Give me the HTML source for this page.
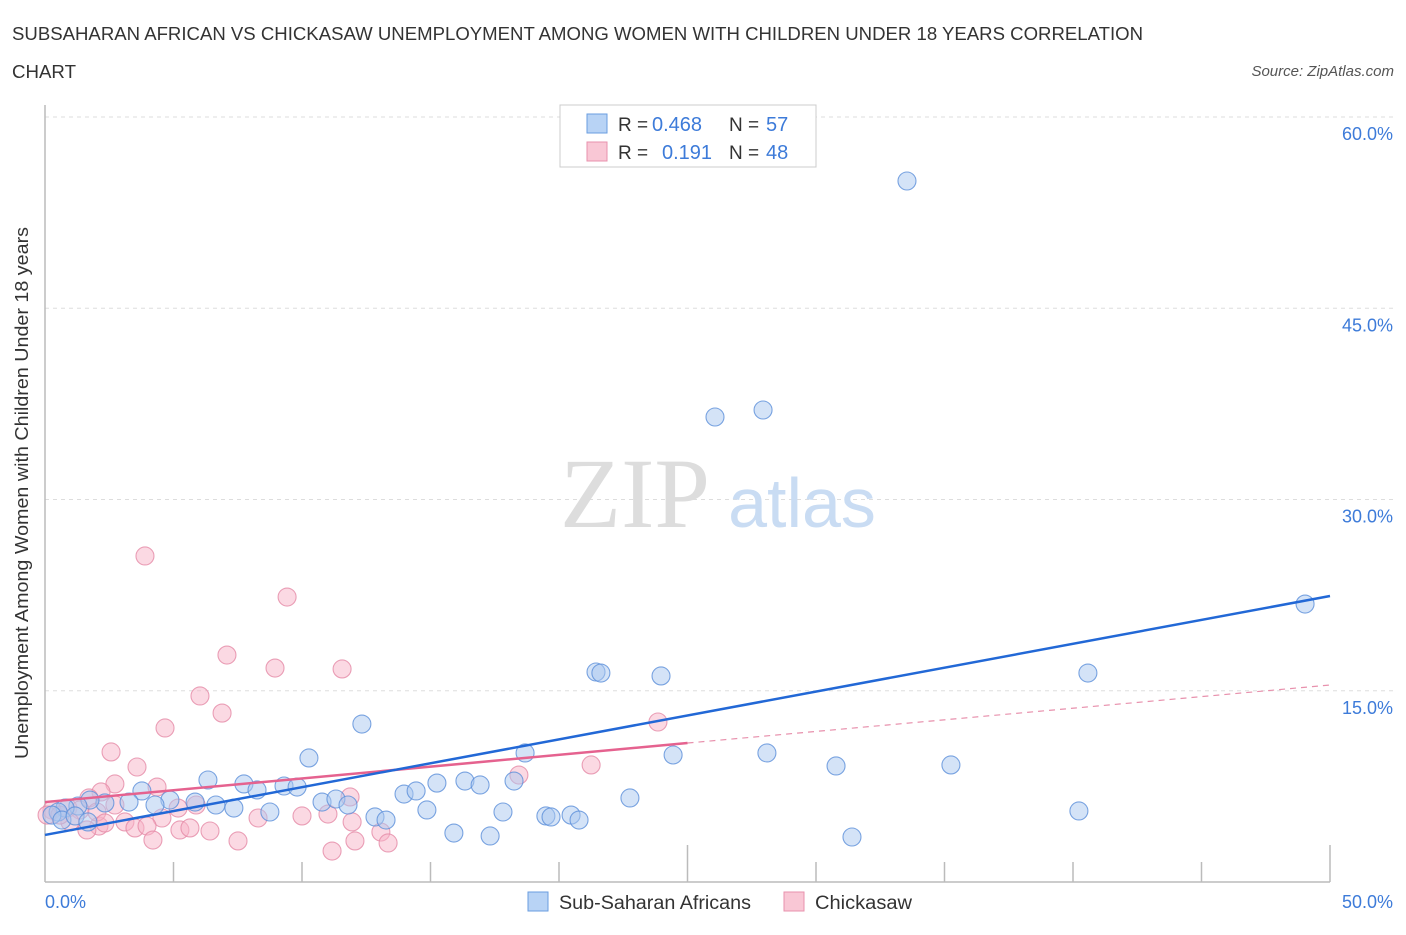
<!DOCTYPE html>
<html><head><meta charset="utf-8"><style>
body{margin:0;background:#fff;font-family:"Liberation Sans",sans-serif;}
</style></head><body>
<svg id="c" width="1406" height="930" xmlns="http://www.w3.org/2000/svg" font-family="Liberation Sans, sans-serif">
<text x="12" y="40" font-size="18" fill="#333" textLength="1131" lengthAdjust="spacingAndGlyphs">SUBSAHARAN AFRICAN VS CHICKASAW UNEMPLOYMENT AMONG WOMEN WITH CHILDREN UNDER 18 YEARS CORRELATION</text>
<text x="12" y="78" font-size="18" fill="#333" textLength="64" lengthAdjust="spacingAndGlyphs">CHART</text>
<text x="1394" y="76" font-size="15" fill="#555" font-style="italic" text-anchor="end">Source: ZipAtlas.com</text>
<text x="28" y="493" font-size="18" fill="#333" text-anchor="middle" textLength="532" lengthAdjust="spacingAndGlyphs" transform="rotate(-90 28 493)">Unemployment Among Women with Children Under 18 years</text>
<g id="grid"></g>
<text x="635" y="527" font-size="100" fill="#ddd" style="font-family:'Liberation Serif',serif" text-anchor="middle">ZIP</text>
<text x="802" y="527" font-size="70" fill="#c9dcf3" text-anchor="middle">atlas</text>
<g id="marks"></g>
<g>
<rect x="560" y="105" width="256" height="62" fill="#fff" stroke="#ccc"/>
<rect x="587" y="114" width="20" height="19" fill="#b8d3f5" stroke="#6a9ee0"/>
<text x="618" y="131" font-size="19" fill="#333">R =</text>
<text x="652" y="131" font-size="20" fill="#3d7bd9">0.468</text>
<text x="729" y="131" font-size="19" fill="#333">N =</text>
<text x="766" y="131" font-size="20" fill="#3d7bd9">57</text>
<rect x="587" y="142" width="20" height="19" fill="#f9c7d5" stroke="#e892ad"/>
<text x="618" y="159" font-size="19" fill="#333">R =</text>
<text x="662" y="159" font-size="20" fill="#3d7bd9">0.191</text>
<text x="729" y="159" font-size="19" fill="#333">N =</text>
<text x="766" y="159" font-size="20" fill="#3d7bd9">48</text>
</g>
<g>
<rect x="528" y="892" width="20" height="19" fill="#b8d3f5" stroke="#6a9ee0"/>
<text x="559" y="909" font-size="19" fill="#333" textLength="192" lengthAdjust="spacingAndGlyphs">Sub-Saharan Africans</text>
<rect x="784" y="892" width="20" height="19" fill="#f9c7d5" stroke="#e892ad"/>
<text x="815" y="909" font-size="19" fill="#333" textLength="97" lengthAdjust="spacingAndGlyphs">Chickasaw</text>
</g>
</svg>
<script>
const blueX=[33.54,26.07,27.94,49.03,40.58,21.44,21.63,23.97,12.33,10.27,18.68,24.44,28.09,30.78,35.25,40.23,31.40,22.76,6.34,7.74,8.25,9.30,9.81,3.77,4.86,5.84,6.65,4.28,3.27,2.33,1.75,1.28,0.78,0.51,0.27,7.35,8.75,10.78,11.32,11.79,12.84,13.27,13.97,14.44,15.25,16.34,16.93,14.86,15.91,17.32,17.82,18.25,19.49,19.69,20.47,20.78,0.66,1.17,1.67];
const blueY=[54.98,36.47,37.02,21.80,16.39,16.47,16.39,16.16,12.39,9.73,10.12,9.96,10.12,9.10,9.18,5.57,3.53,6.59,8.00,7.69,7.22,7.53,7.45,7.14,6.43,6.27,6.04,6.04,6.27,6.20,6.43,5.96,5.80,5.49,5.25,5.80,5.49,6.27,6.51,6.04,5.10,4.86,6.90,7.14,7.76,7.92,7.61,5.65,3.84,3.61,5.49,7.92,5.18,5.10,5.25,4.86,4.86,5.18,4.71];
const pinkX=[3.89,9.42,7.08,8.95,11.56,6.03,6.89,4.67,2.57,3.58,23.85,21.25,18.44,2.72,4.36,2.18,1.71,0.89,0.27,0.08,1.36,2.72,5.18,5.88,4.55,3.11,3.50,2.10,1.63,3.97,5.25,5.64,6.42,4.20,7.51,8.29,10.00,11.01,11.87,11.95,13.07,13.35,11.17,12.06,0.97,0.58,2.02,2.33];
const pinkY=[25.57,22.35,17.80,16.78,16.71,14.59,13.25,12.08,10.20,9.02,12.55,9.18,8.39,7.69,7.45,7.06,6.59,5.80,5.65,5.25,5.65,6.04,5.80,6.04,5.02,4.71,4.24,4.39,4.08,4.39,4.08,4.24,4.00,3.29,3.22,5.02,5.18,5.33,6.67,4.71,3.92,3.06,2.43,3.22,4.71,5.25,5.49,4.63];
const blueTrend=[3.69,22.43];
const pinkTrend=[6.27,10.9,15.45];
const yTicks=[15,30,45,60];
const xTickLabels=["0.0%","50.0%"];
const NS="http://www.w3.org/2000/svg";
const X0=45,X1=1330,Y0=882,YPER=12.75;
const sx=v=>X0+(X1-X0)*v/50, sy=v=>Y0-v*YPER;
function mk(t,a,p){const e=document.createElementNS(NS,t);for(const k in a)e.setAttribute(k,a[k]);p.appendChild(e);return e;}
const g=document.getElementById('grid'),m=document.getElementById('marks');
yTicks.forEach(t=>{
 const l=mk('line',{x1:X0,x2:1395,y1:sy(t),y2:sy(t),stroke:'#ddd','stroke-dasharray':'4,4'},g);
 
 
 const tx=mk('text',{x:1393,y:sy(t)+23,'font-size':18,fill:'#3d7bd9','text-anchor':'end'},g);
 tx.textContent=t.toFixed(1)+'%';
 
 
});
const ax=mk('line',{x1:X0,x2:X1,y1:Y0,y2:Y0,stroke:'#bbb','stroke-width':1.5},g);


const ay=mk('line',{x1:X0,x2:X0,y1:105,y2:Y0,stroke:'#bbb','stroke-width':1.5},g);


for(let i=1;i<=10;i++){const v=i*5;const tk=mk('line',{x1:sx(v),x2:sx(v),y1:(v==25||v==50)?845:862,y2:Y0,stroke:'#bbb','stroke-width':1.5},g);
 
 }
[[0,'start',45],[50,'end',1393]].forEach((d,i)=>{const t=mk('text',{x:d[2],y:908,'font-size':18,fill:'#3d7bd9','text-anchor':d[1]},g);t.textContent=xTickLabels[i];
 
 });
function dots(xs,ys,fill,stroke,name){xs.forEach((x,i)=>{const c=mk('circle',{cx:sx(x),cy:sy(ys[i]),r:9,fill:fill,'fill-opacity':0.5,stroke:stroke,'stroke-width':1.1,'stroke-opacity':0.8},m);
 
 });}
dots(pinkX,pinkY,'#f7b3c7','#e58aa6','chickasaw');
dots(blueX,blueY,'#a9c8f0','#5b8fd9','subsaharan');
let l=mk('line',{x1:sx(0),y1:sy(pinkTrend[0]),x2:sx(25),y2:sy(pinkTrend[1]),stroke:'#e5628f','stroke-width':2.5},m);


l=mk('line',{x1:sx(25),y1:sy(pinkTrend[1]),x2:sx(50),y2:sy(pinkTrend[2]),stroke:'#e891ad','stroke-width':1.2,'stroke-dasharray':'6,5'},m);


l=mk('line',{x1:sx(0),y1:sy(blueTrend[0]),x2:sx(50),y2:sy(blueTrend[1]),stroke:'#2268d6','stroke-width':2.5},m);


</script>
</body></html>
